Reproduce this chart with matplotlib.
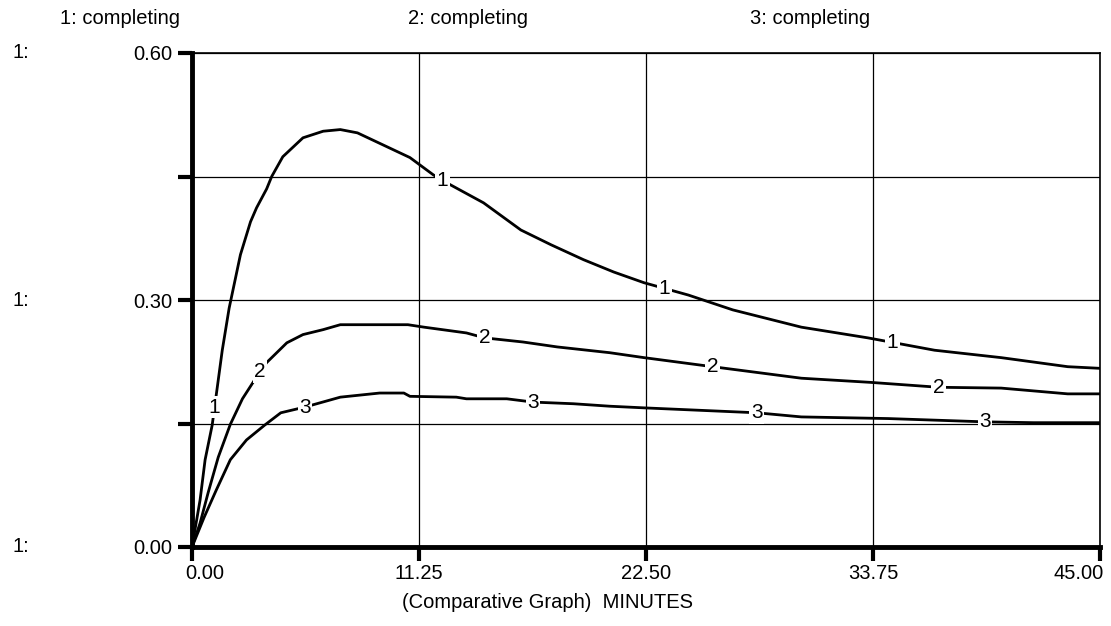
import numpy as np
import matplotlib
matplotlib.use("Agg")
import matplotlib.pyplot as plt
import matplotlib.transforms as mtransforms

plt.rcParams['font.family'] = ['Liberation Sans', 'DejaVu Sans']

# ---- data (minutes, completing) ----
t1 = [0, 0.4, 0.65, 1.0, 1.5, 1.84, 2.4, 2.9, 3.2, 3.7, 3.95, 4.5, 5.5, 6.5, 7.35, 8.2, 9.5,
      10.8, 11.96, 12.8, 14.45, 16.3, 17.8, 19.4, 20.9, 22.4, 24.6, 26.8, 30.2, 33.5, 36.8,
      40.1, 43.4, 45]
v1 = [0, 0.057, 0.106, 0.148, 0.239, 0.29, 0.355, 0.395, 0.412, 0.435, 0.45, 0.474, 0.497,
      0.505, 0.507, 0.503, 0.488, 0.473, 0.452, 0.44, 0.418, 0.385, 0.367, 0.349, 0.334,
      0.321, 0.306, 0.288, 0.267, 0.254, 0.239, 0.23, 0.219, 0.217]

t2 = [0, 0.4, 0.8, 1.3, 1.9, 2.5, 3.0, 3.37, 3.7, 4.7, 5.5, 6.5, 7.35, 10.7, 11.5, 13.6,
      14.5, 16.4, 18.1, 20.7, 22.4, 25.8, 30.2, 33.6, 37, 40.1, 43.4, 45]
v2 = [0, 0.029, 0.066, 0.109, 0.149, 0.18, 0.199, 0.213, 0.224, 0.248, 0.258, 0.264, 0.27,
      0.27, 0.267, 0.26, 0.254, 0.249, 0.243, 0.236, 0.23, 0.219, 0.205, 0.2, 0.194, 0.193,
      0.186, 0.186]

t3 = [0, 0.6, 1.2, 1.9, 2.7, 3.6, 4.4, 5.6, 7.35, 9.3, 10.5, 10.8, 13.1, 13.6, 15.6, 16.9,
      18.9, 20.7, 22.4, 28, 30.2, 34.5, 39.3, 41.7, 45]
v3 = [0, 0.036, 0.069, 0.106, 0.13, 0.148, 0.163, 0.17, 0.182, 0.187, 0.187, 0.183, 0.182,
      0.18, 0.18, 0.176, 0.174, 0.171, 0.169, 0.163, 0.158, 0.156, 0.152, 0.151, 0.151]

label_t1 = [1.12, 12.4, 23.4, 34.7]
label_t2 = [3.37, 14.5, 25.8, 37.0]
label_t3 = [5.6, 16.9, 28.0, 39.3]

x_ticks = [0, 11.25, 22.5, 33.75, 45]
x_ticklabels = ["0.00", "11.25", "22.50", "33.75", "45.00"]
y_ticks = [0, 0.15, 0.30, 0.45, 0.60]
y_ticklabels = ["0.00", "", "0.30", "", "0.60"]

series = [("1", t1, v1, label_t1), ("2", t2, v2, label_t2), ("3", t3, v3, label_t3)]
titles = ["1: completing", "2: completing", "3: completing"]

# ---- figure ----
fig = plt.figure(figsize=(11.11, 6.26), dpi=100)
ax = fig.add_axes([192 / 1111, 1 - 547 / 626, (1100 - 192) / 1111, (547 - 53) / 626])
ax.set_xlim(0, 45)
ax.set_ylim(0, 0.6)

ax.set_xticks(x_ticks)
ax.set_xticklabels(x_ticklabels)
ax.set_yticks(y_ticks)
ax.set_yticklabels(y_ticklabels)
ax.grid(True, color='black', linewidth=0.9)
ax.set_axisbelow(True)
ax.tick_params(axis='both', direction='out', length=10, width=3, color='black',
               labelsize=14.5, pad=4)
ax.tick_params(axis='x', pad=2)

# shift first / last x tick labels like the reference
xl = ax.get_xticklabels()
xl[0].set_transform(xl[0].get_transform() + mtransforms.ScaledTranslation(13 / 100, 0, fig.dpi_scale_trans))
xl[-1].set_transform(xl[-1].get_transform() + mtransforms.ScaledTranslation(-21 / 100, 0, fig.dpi_scale_trans))

for side in ['top', 'right']:
    ax.spines[side].set_linewidth(1.2)
for side in ['left', 'bottom']:
    ax.spines[side].set_linewidth(3.5)

for name, t, v, lt in series:
    ax.plot(t, v, color='black', linewidth=2.0, solid_joinstyle='round', zorder=3)
    ly = np.interp(lt, t, v)
    for xx, yy in zip(lt, ly):
        ax.text(xx, yy, name, fontsize=15, ha='center', va='center', zorder=4,
                bbox=dict(boxstyle='square,pad=0.08', fc='white', ec='none'))

# titles
for x_px, title in zip([60, 408, 750], titles):
    fig.text(x_px / 1111, 1 - 18 / 626, title, fontsize=14.5, ha='left', va='center')

# left "1:" labels
trans = mtransforms.blended_transform_factory(fig.transFigure, ax.transData)
for yv in [0.0, 0.30, 0.60]:
    ax.text(12 / 1111, yv, "1:", transform=trans, fontsize=14.5, ha='left', va='center')

fig.text(402 / 1111, 1 - 603 / 626, "(Comparative Graph)  MINUTES", fontsize=14.5,
         ha='left', va='center')

fig.savefig("out.png", dpi=100)
